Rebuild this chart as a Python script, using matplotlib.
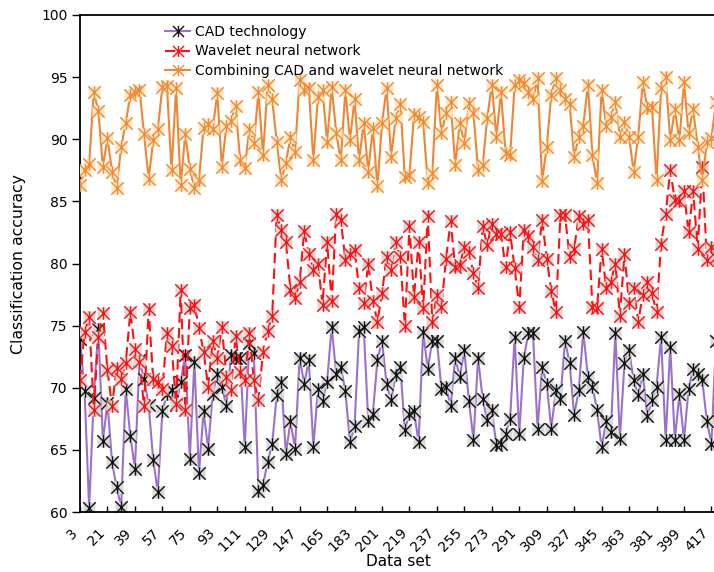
import matplotlib
matplotlib.use('Agg')
import matplotlib.pyplot as plt
from matplotlib.path import Path
from matplotlib.lines import Line2D

# Номер набора данных (шаг 3)
data_set = list(range(3, 421, 3))

cad_technology = [
    73.9, 69.7, 60.3, 69.2, 74.7, 65.7, 68.8, 64.0, 62.0, 60.4,
    69.9, 66.1, 63.5, 72.2, 70.7, 68.6, 64.2, 61.6, 68.1, 69.5,
    69.8, 68.6, 70.5, 72.6, 64.3, 72.1, 63.1, 68.1, 65.1, 69.5,
    71.1, 70.1, 68.5, 72.6, 72.4, 72.4, 65.2, 73.6, 72.8, 61.7,
    62.2, 64.0, 65.5, 69.4, 70.5, 64.7, 67.3, 65.1, 72.4, 70.3,
    72.2, 65.2, 69.9, 68.9, 70.5, 74.9, 71.1, 71.7, 69.7, 65.6,
    66.9, 74.6, 74.9, 67.3, 67.9, 72.2, 73.8, 70.3, 69.0, 71.0,
    71.7, 66.6, 67.9, 68.1, 65.6, 74.5, 71.5, 73.8, 73.8, 69.9,
    70.1, 68.5, 72.4, 70.9, 73.0, 68.9, 65.8, 72.4, 69.1, 67.4,
    68.2, 65.4, 65.5, 66.3, 67.5, 74.1, 66.3, 72.4, 74.4, 74.4,
    66.7, 71.7, 70.3, 66.7, 69.8, 69.1, 73.8, 72.0, 67.8, 69.8,
    74.5, 70.9, 70.1, 68.2, 65.2, 67.3, 66.4, 74.4, 65.9, 72.0,
    73.0, 70.6, 69.4, 71.1, 67.7, 69.0, 70.1, 74.1, 65.8, 73.3,
    65.8, 69.5, 65.8, 69.9, 71.5, 71.1, 70.6, 67.3, 65.5, 73.8,
]

wavelet_nn = [
    70.6, 74.5, 75.7, 68.2, 74.1, 76.0, 71.4, 68.5, 71.6, 70.7,
    72.0, 76.1, 73.1, 72.1, 68.5, 76.3, 70.7, 70.5, 69.9, 74.4,
    73.4, 68.7, 77.9, 68.2, 76.4, 76.7, 74.8, 72.9, 70.1, 73.8,
    72.4, 74.9, 70.9, 69.8, 74.2, 71.3, 70.6, 74.4, 70.6, 69.0,
    72.9, 74.6, 75.8, 83.9, 82.7, 81.7, 77.9, 77.2, 78.5, 82.6,
    80.8, 79.5, 80.0, 76.7, 81.7, 77.0, 84.0, 83.5, 80.3, 80.8,
    81.1, 78.0, 76.8, 80.0, 77.0, 75.3, 77.6, 80.5, 79.5, 81.7,
    80.5, 75.0, 83.0, 77.3, 81.7, 76.4, 83.8, 75.3, 77.5, 76.5,
    80.4, 83.4, 79.7, 79.9, 81.3, 80.9, 79.2, 78.0, 83.0, 81.5,
    83.2, 82.4, 82.4, 79.7, 82.5, 79.6, 76.5, 82.7, 82.2, 81.3,
    80.3, 83.5, 80.4, 77.8, 76.1, 83.9, 83.9, 80.5, 81.2, 83.8,
    83.2, 83.5, 76.5, 76.4, 81.2, 78.0, 78.5, 80.0, 75.8, 80.8,
    76.8, 78.0, 75.3, 77.5, 78.5, 77.6, 76.1, 81.6, 84.0, 87.5,
    85.1, 85.0, 85.8, 82.5, 85.8, 81.2, 87.8, 80.3, 81.3, 80.5,
]

combined = [
    86.3, 87.5, 88.0, 93.8, 92.3, 87.8, 90.1, 87.4, 86.1, 89.4,
    91.3, 93.6, 93.8, 94.0, 90.4, 86.8, 89.9, 90.8, 94.2, 94.3,
    87.5, 94.1, 86.3, 90.4, 87.6, 86.1, 86.7, 90.9, 91.2, 90.8,
    93.7, 87.8, 91.1, 91.5, 92.7, 88.3, 87.7, 90.8, 89.7, 93.8,
    88.7, 94.4, 93.2, 89.8, 86.7, 88.1, 90.2, 89.0, 94.8, 94.0,
    94.1, 88.3, 93.4, 94.0, 89.8, 94.2, 90.5, 88.3, 94.0, 89.9,
    93.2, 88.3, 91.3, 87.4, 90.9, 86.2, 91.3, 94.1, 88.6, 91.7,
    92.8, 87.0, 87.1, 92.0, 91.8, 91.4, 86.5, 87.3, 94.4, 90.5,
    92.1, 93.0, 87.9, 91.3, 89.7, 92.9, 92.1, 87.5, 87.9, 91.7,
    94.4, 90.2, 93.8, 88.9, 88.7, 94.4, 94.8, 94.5, 93.8, 93.2,
    94.9, 86.6, 89.4, 93.6, 94.9, 94.0, 93.2, 92.8, 88.6, 90.2,
    91.1, 94.4, 88.7, 86.5, 94.0, 91.1, 91.8, 93.0, 90.2, 91.4,
    90.2, 87.4, 90.2, 94.6, 92.5, 92.6, 86.7, 94.1, 95.0, 89.9,
    92.4, 89.9, 94.6, 90.5, 92.4, 89.4, 86.7, 89.8, 90.1, 93.0,
]

series_labels = ['CAD technology', 'Wavelet neural network',
                 'Combining CAD and wavelet neural network']
x_ticks = list(range(3, 418, 18))
y_ticks = [60, 65, 70, 75, 80, 85, 90, 95, 100]

# Маркер "звёздочка" как в Excel: крест + вертикальная черта
STAR = Path([(-1, -1), (1, 1), (-1, 1), (1, -1), (0, -1), (0, 1)],
            [Path.MOVETO, Path.LINETO] * 3)


def plot_series(ax, x, y, line_color, line_style, mark_color, bg_color, z):
    ax.plot(x, y, color=line_color, lw=1.5, ls=line_style, zorder=z)
    ax.plot(x, y, ls='none', marker='s', ms=8.5, mfc=bg_color, mec='none', zorder=z + 0.1)
    ax.plot(x, y, ls='none', marker=STAR, ms=9, mfc='none', mec=mark_color,
            mew=1.0, zorder=z + 0.2)


def plot_chart():
    plt.rcParams['font.family'] = ['DejaVu Sans']
    fs = 10
    fig = plt.figure(figsize=(7.14, 5.72), dpi=100)
    ax = fig.add_axes([80 / 714, 60 / 572, 636 / 714, 497 / 572])

    styles = [
        ('#9B72CB', '-', '#111111', '#D9D9D9'),
        ('#FF1010', (0, (5, 2.5)), '#FF1010', '#D9D9D9'),
        ('#EE8633', '-', '#F08A3A', '#FDEAC4'),
    ]
    all_series = [cad_technology, wavelet_nn, combined]
    handles = []
    for i, (vals, st) in enumerate(zip(all_series, styles)):
        plot_series(ax, data_set, vals, st[0], st[1], st[2], st[3], 2 + i)
        handles.append(Line2D([0], [0], color=st[0], ls=st[1], lw=1.5,
                              marker=STAR, ms=8, mfc='none', mec=st[2], mew=1.0))

    ax.set_xlim(3, 420)
    ax.set_ylim(60, 100)
    ax.set_xticks(x_ticks)
    # правый нижний угол подписи стоит под делением, текст уходит влево
    ax.set_xticklabels([str(t) for t in x_ticks], rotation=45, ha='right',
                       va='bottom', rotation_mode='anchor', fontsize=fs)
    ax.set_yticks(y_ticks)
    ax.set_yticklabels([str(t) for t in y_ticks], fontsize=fs)
    ax.tick_params(axis='x', direction='in', length=4, width=1, pad=17)
    ax.tick_params(axis='y', direction='out', length=6, width=1, pad=3)
    for side in ['left', 'bottom', 'top', 'right']:
        ax.spines[side].set_linewidth(1.3)
        ax.spines[side].set_color('black')

    ax.set_xlabel('Data set', fontsize=11, va='center')
    ax.xaxis.set_label_coords(0.5, -(562 - 512) / 497)
    ax.set_ylabel('Classification accuracy', fontsize=11.3, labelpad=11)

    ax.legend(handles, series_labels, loc='upper left',
              bbox_to_anchor=((157 - 80) / 636, 0.997), frameon=False,
              fontsize=fs, handlelength=1.8, handletextpad=0.35,
              labelspacing=0.4, borderpad=0.1)

    fig.savefig('out.png', dpi=100)


if __name__ == "__main__":
    plot_chart()
